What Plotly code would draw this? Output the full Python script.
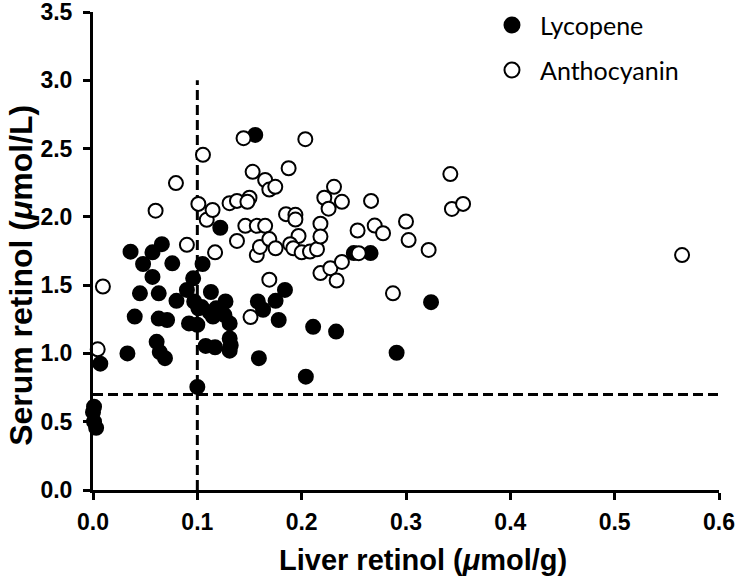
import plotly.graph_objects as go

# Lycopene (filled)
lyc_x = [0.1555, 0.122, 0.036, 0.066, 0.057, 0.048, 0.076, 0.105, 0.057, 0.096,
         0.045, 0.063, 0.080, 0.090, 0.113, 0.097, 0.127, 0.104, 0.118, 0.126,
         0.115, 0.131, 0.040, 0.063, 0.071, 0.092, 0.100, 0.061, 0.131, 0.108,
         0.117, 0.132, 0.131, 0.033, 0.064, 0.069, 0.007, 0.158, 0.159, 0.163,
         0.175, 0.184, 0.178, 0.211, 0.233, 0.204, 0.291, 0.324, 0.250, 0.266,
         0.100, 0.001, 0.000, 0.001, 0.003, 0.101, 0.112]
lyc_y = [2.60, 1.92, 1.745, 1.80, 1.74, 1.655, 1.66, 1.655, 1.56, 1.55,
         1.44, 1.44, 1.385, 1.465, 1.45, 1.38, 1.38, 1.34, 1.33, 1.28,
         1.27, 1.22, 1.27, 1.255, 1.245, 1.22, 1.21, 1.085, 1.11, 1.055,
         1.045, 1.06, 1.02, 1.00, 1.01, 0.965, 0.925, 1.38, 0.965, 1.32,
         1.385, 1.465, 1.245, 1.195, 1.16, 0.83, 1.005, 1.375, 1.735, 1.735,
         0.755, 0.61, 0.57, 0.50, 0.455, 1.33, 1.30]

# Anthocyanin (open)
ant_x = [0.0045, 0.0095, 0.060, 0.0795, 0.090, 0.101, 0.1054, 0.109, 0.1146, 0.117,
         0.1309, 0.138, 0.138, 0.1443, 0.150, 0.148, 0.146, 0.153, 0.157, 0.157,
         0.160, 0.165, 0.165, 0.169, 0.1747, 0.169, 0.175, 0.169, 0.151, 0.1875,
         0.185, 0.194, 0.194, 0.197, 0.189, 0.192, 0.200, 0.2035, 0.208, 0.2147,
         0.218, 0.218, 0.2217, 0.2258, 0.231, 0.2386, 0.218, 0.2275, 0.2335, 0.2386,
         0.2536, 0.2547, 0.2665, 0.270, 0.278, 0.2875, 0.300, 0.3025, 0.3217, 0.3425,
         0.344, 0.3547, 0.5646]
ant_y = [1.03, 1.49, 2.045, 2.247, 1.795, 2.095, 2.454, 1.978, 2.05, 1.74,
         2.10, 2.117, 1.824, 2.576, 2.14, 2.11, 1.934, 2.33, 1.934, 1.72,
         1.78, 2.27, 1.934, 2.20, 2.22, 1.837, 1.77, 1.54, 1.266, 2.356,
         2.02, 2.015, 1.98, 1.86, 1.80, 1.77, 1.74, 2.569, 1.746, 1.763,
         1.95, 1.856, 2.14, 2.06, 2.22, 2.11, 1.588, 1.624, 1.534, 1.67,
         1.90, 1.734, 2.117, 1.936, 1.88, 1.44, 1.966, 1.83, 1.758, 2.313,
         2.058, 2.095, 1.72]

x_ticks = [0.0, 0.1, 0.2, 0.3, 0.4, 0.5, 0.6]
y_ticks = [0.0, 0.5, 1.0, 1.5, 2.0, 2.5, 3.0, 3.5]
liver_cutoff = 0.1
serum_cutoff = 0.7
x_title = "Liver retinol (<i>μ</i>mol/g)"
y_title = "Serum retinol (<i>μ</i>mol/L)"
series_names = ["Lycopene", "Anthocyanin"]
series_fill = ["black", "white"]

fig = go.Figure()
fig.add_trace(go.Scatter(
    x=lyc_x, y=lyc_y, mode="markers", name=series_names[0],
    marker=dict(size=14, color=series_fill[0], line=dict(color="black", width=2)),
    cliponaxis=False))
fig.add_trace(go.Scatter(
    x=ant_x, y=ant_y, mode="markers", name=series_names[1],
    marker=dict(size=14, color=series_fill[1], line=dict(color="black", width=2)),
    cliponaxis=False))

fig.add_shape(type="line", xref="x", yref="y", x0=liver_cutoff, x1=liver_cutoff,
              y0=0, y1=3.0, line=dict(color="black", width=3, dash="10px,5px"), layer="below")
fig.add_shape(type="line", xref="x", yref="y", x0=0, x1=0.6,
              y0=serum_cutoff, y1=serum_cutoff,
              line=dict(color="black", width=3, dash="10px,5px"), layer="below")

# manual legend (keeps plot area unchanged)
legend_y = [0.9728, 0.8787]
for name, fill, ly in zip(series_names, series_fill, legend_y):
    fig.add_shape(type="circle", xref="paper", yref="paper",
                  xsizemode="pixel", ysizemode="pixel",
                  xanchor=0.6693, yanchor=ly, x0=-7.5, x1=7.5, y0=-7.5, y1=7.5,
                  fillcolor=fill, line=dict(color="black", width=2))
    fig.add_annotation(text=name, xref="paper", yref="paper", x=0.7109, y=ly,
                       xanchor="left", yanchor="middle", showarrow=False,
                       font=dict(family="Lato", size=25, color="black"))

fig.add_annotation(text=x_title, xref="paper", yref="paper", x=0.527, y=-0.146,
                   xanchor="center", yanchor="middle", showarrow=False,
                   font=dict(family="Liberation Sans", size=29, color="black", weight="bold"))
fig.add_annotation(text=y_title, xref="paper", yref="paper", x=-0.115, y=0.448,
                   xanchor="center", yanchor="middle", showarrow=False, textangle=-90,
                   font=dict(family="Liberation Sans", size=32, color="black", weight="bold"))

tick_font = dict(family="Liberation Sans", size=23, color="black", weight="bold")
fig.update_layout(
    width=738, height=579,
    margin=dict(l=93, r=19, t=12, b=89),
    paper_bgcolor="white", plot_bgcolor="white",
    showlegend=False,
    xaxis=dict(range=[0, 0.6], tickvals=x_ticks, ticktext=[f"{v:.1f}" for v in x_ticks],
               showgrid=False, zeroline=False, showline=True, linecolor="black",
               linewidth=3, ticks="outside", ticklen=7, tickwidth=3, tickcolor="black",
               tickfont=tick_font, automargin=False, ticklabelstandoff=2,
               ticklabeloverflow="allow"),
    yaxis=dict(range=[0, 3.5], tickvals=y_ticks, ticktext=[f"{v:.1f}" for v in y_ticks],
               showgrid=False, zeroline=False, showline=True, linecolor="black",
               linewidth=3, ticks="outside", ticklen=7, tickwidth=3, tickcolor="black",
               tickfont=tick_font, automargin=False, ticklabelstandoff=6,
               ticklabeloverflow="allow"),
)

fig.write_html("out.html", config={"displayModeBar": False},
               post_script="document.body.style.margin='0';")
